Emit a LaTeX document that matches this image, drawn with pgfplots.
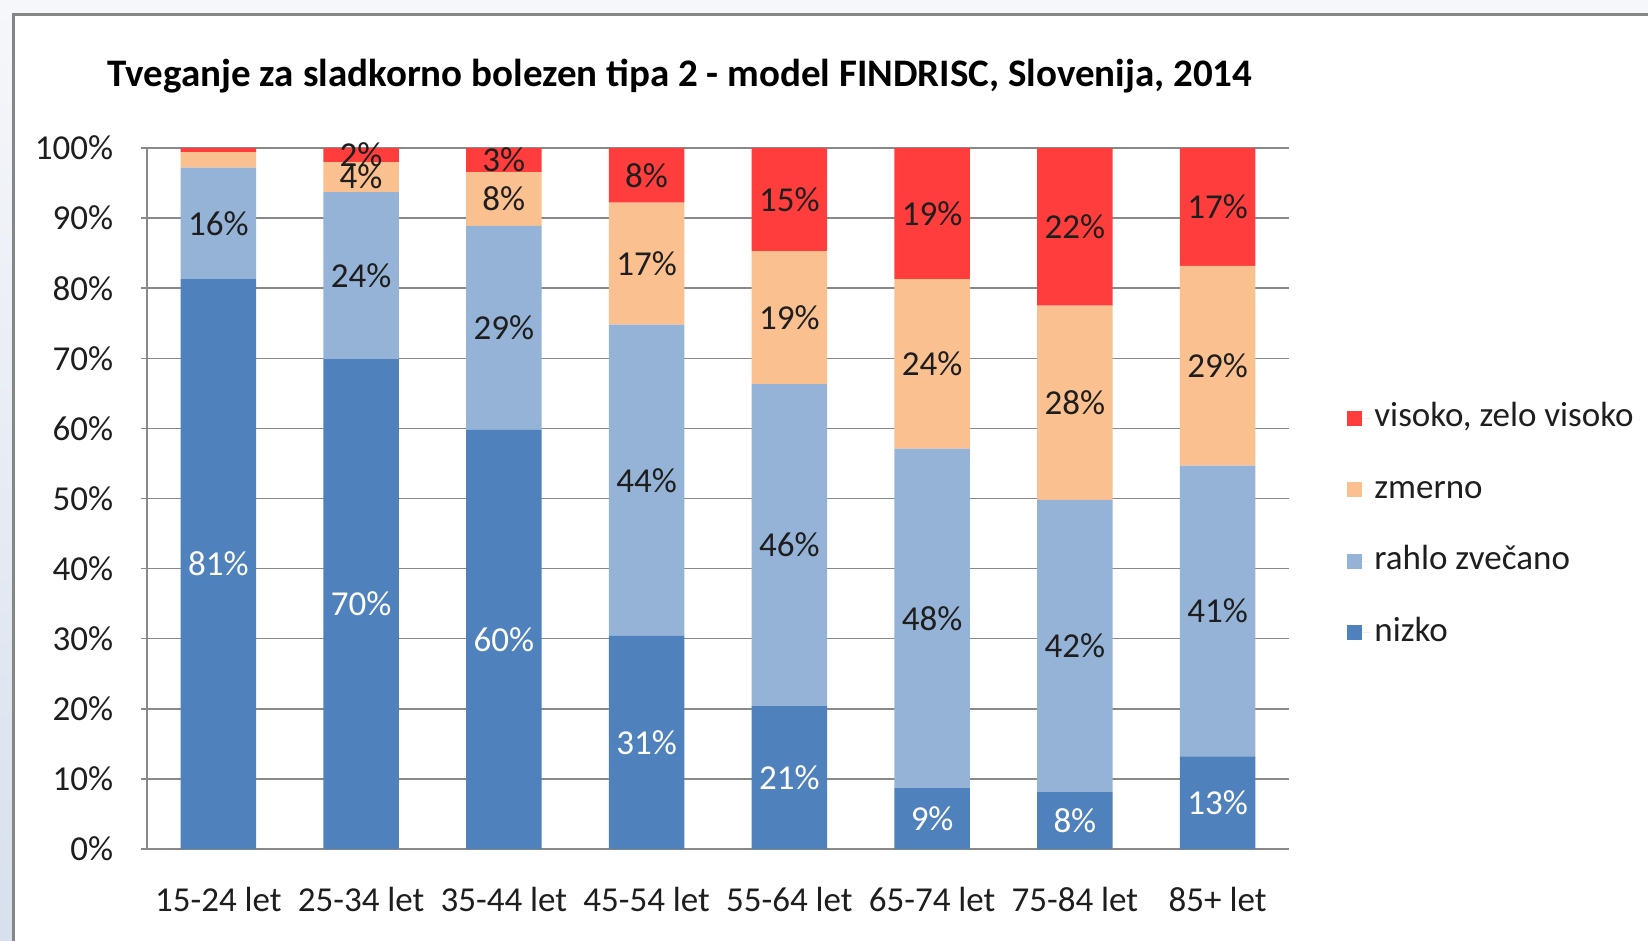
\documentclass[border=0pt]{standalone}
\usepackage{pgfplots}
\pgfplotsset{compat=1.18}
\usepackage{fontspec}
\setmainfont{Carlito}
\definecolor{cNizko}{HTML}{4F81BD}
\definecolor{cRahlo}{HTML}{95B3D7}
\definecolor{cZmerno}{HTML}{FAC090}
\definecolor{cVisoko}{HTML}{FF3D3D}
\definecolor{gridgray}{HTML}{898989}
\definecolor{framegray}{HTML}{868686}
\definecolor{bgtop}{HTML}{F6F7FA}
\definecolor{bgleft}{HTML}{D8E0ED}
\definecolor{lbl}{HTML}{1E1E1E}
\newcommand{\chartfont}{\fontsize{17.5}{21}\selectfont}
\begin{document}
\begin{tikzpicture}
\clip (0,0) rectangle (824pt,-470.5pt);
\fill[bgtop] (0,0) rectangle (824pt,-470.5pt);
\shade[top color=bgtop, bottom color=bgleft] (0,0) rectangle (6.5pt,-470.5pt);
\fill[white] (6.75pt,-7.25pt) rectangle (830pt,-480pt);
\draw[framegray, line width=1.5pt] (6.75pt,-480pt) -- (6.75pt,-7.25pt) -- (830pt,-7.25pt);
\node[anchor=base, font=\fontsize{19.5}{23}\selectfont\bfseries, text=black, inner sep=0pt] at (340pt,-43.5pt)
  {Tveganje za sladkorno bolezen tipa 2 - model FINDRISC, Slovenija, 2014};
\begin{axis}[
  at={(73.5pt,-424.5pt)}, anchor=south west,
  scale only axis, width=571pt, height=350.5pt,
  ybar stacked, bar width=37.8pt,
  xmin=-0.5, xmax=7.5, ymin=0, ymax=100,
  axis lines*=left,
  axis line style={draw=gridgray, line width=0.75pt, -},
  xtick={0,...,7},
  xticklabels={15-24 let,25-34 let,35-44 let,45-54 let,55-64 let,65-74 let,75-84 let,85+ let},
  major x tick style={draw=none},
  extra x ticks={-0.5,0.5,1.5,2.5,3.5,4.5,5.5,6.5,7.5},
  extra x tick labels={},
  extra x tick style={major tick length=7pt, tick align=outside, tick style={draw=gridgray, line width=0.75pt}, grid=none},
  xticklabel style={anchor=center, inner sep=0pt, yshift=-22pt, font=\chartfont, text=lbl},
  ytick={0,10,...,100},
  yticklabels={0\%,10\%,20\%,30\%,40\%,50\%,60\%,70\%,80\%,90\%,100\%},
  yticklabel style={anchor=east, inner sep=0pt, xshift=-13.75pt, font=\chartfont, text=lbl},
  major y tick style={draw=gridgray, line width=0.75pt},
  tick align=outside, major tick length=3pt,
  ymajorgrids, major grid style={draw=gridgray, line width=0.75pt},
  point meta=explicit symbolic,
  nodes near coords,
  every node near coord/.append style={anchor=center, font=\chartfont, text=lbl},
  legend style={draw=none, fill=none, at={(1.0508,0.4615)}, anchor=west, inner sep=0pt,
    font=\chartfont, text=lbl, row sep=15.25pt, nodes={inner sep=2pt, text height=12.5pt, text depth=4pt}},
  legend cell align=left,
  reverse legend,
  legend image code/.code={\fill[#1] (0pt,-3.75pt) rectangle (7.5pt,3.75pt); \path (0pt,0pt) -- (11.5pt,0pt);},
]
\addplot[fill=cNizko, draw=none, every node near coord/.append style={text=white}] coordinates {
 (0,81.3) [81\%] (1,69.9) [70\%] (2,59.8) [60\%] (3,30.4) [31\%]
 (4,20.4) [21\%] (5,8.7) [9\%] (6,8.2) [8\%] (7,13.2) [13\%]};
\addlegendentry{nizko}
\addplot[fill=cRahlo, draw=none] coordinates {
 (0,15.9) [16\%] (1,23.8) [24\%] (2,29.1) [29\%] (3,44.4) [44\%]
 (4,45.9) [46\%] (5,48.4) [48\%] (6,41.6) [42\%] (7,41.5) [41\%]};
\addlegendentry{rahlo zvečano}
\addplot[fill=cZmerno, draw=none] coordinates {
 (0,2.2) [{}] (1,4.3) [4\%] (2,7.65) [8\%] (3,17.4) [17\%]
 (4,19.0) [19\%] (5,24.2) [24\%] (6,27.7) [28\%] (7,28.5) [29\%]};
\addlegendentry{zmerno}
\addplot[fill=cVisoko, draw=none] coordinates {
 (0,0.6) [{}] (1,2.0) [2\%] (2,3.45) [3\%] (3,7.8) [8\%]
 (4,14.7) [15\%] (5,18.7) [19\%] (6,22.5) [22\%] (7,16.8) [17\%]};
\addlegendentry{visoko, zelo visoko}
\end{axis}
\end{tikzpicture}
\end{document}
